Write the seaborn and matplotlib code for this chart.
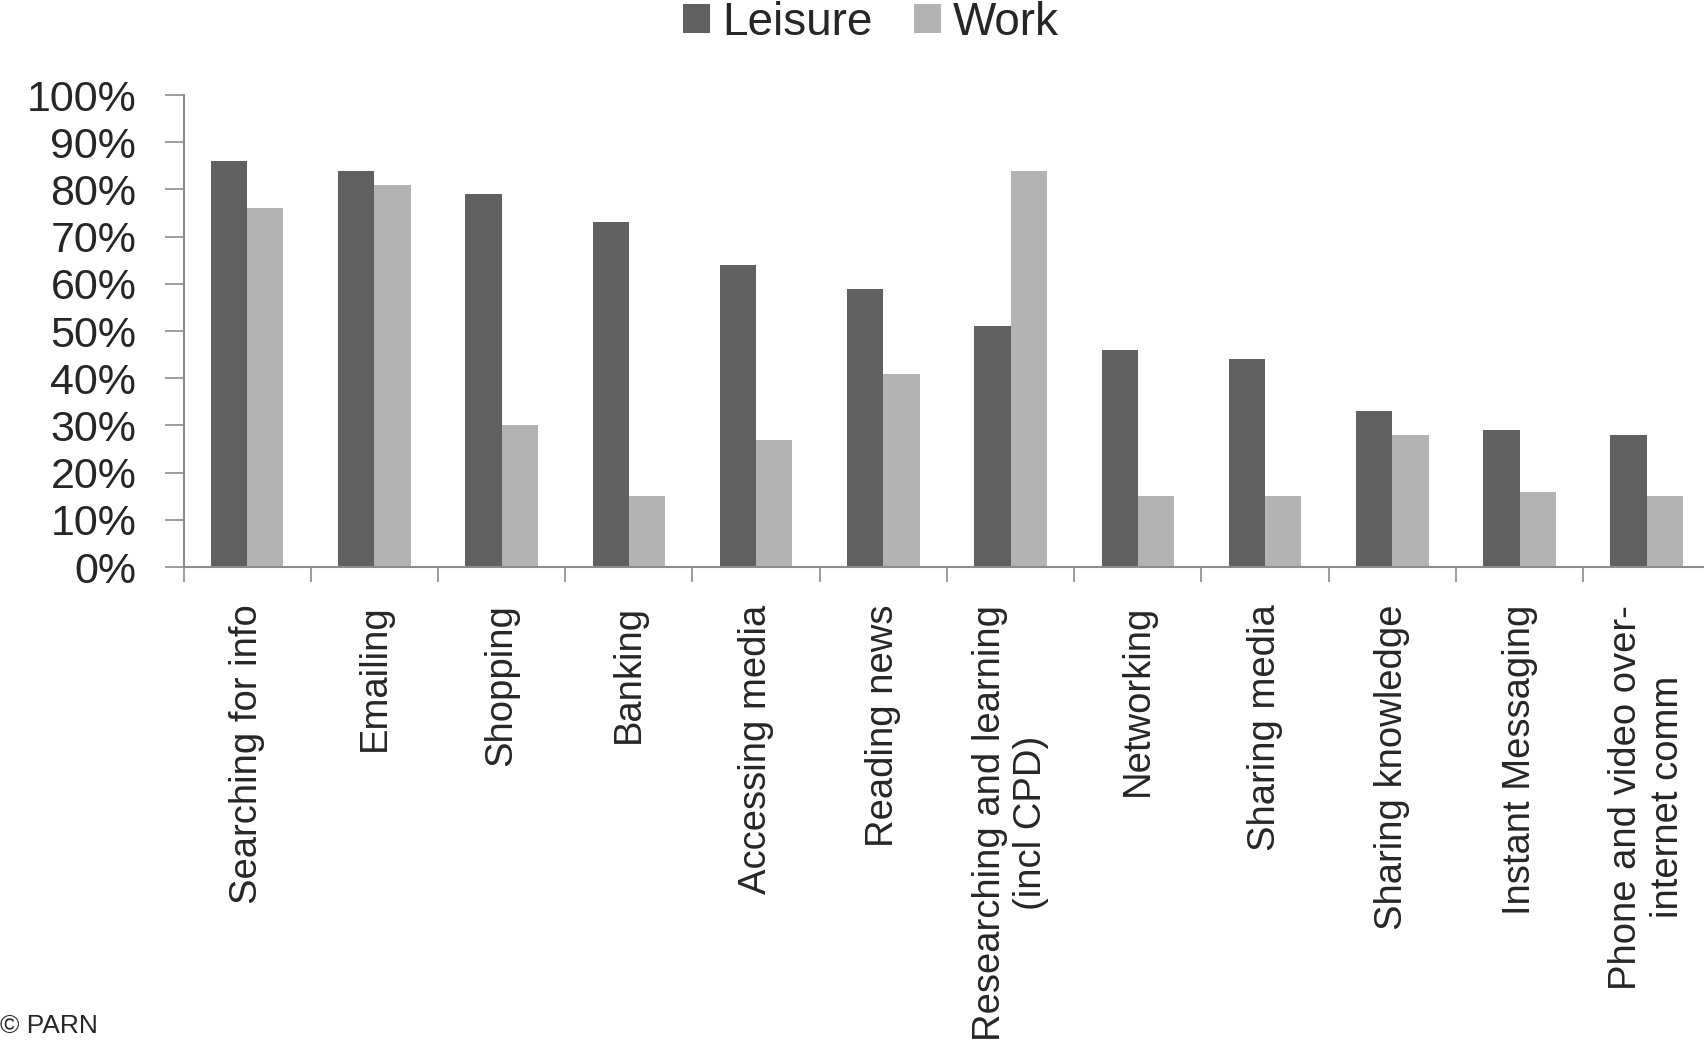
import matplotlib
matplotlib.use("Agg")
import matplotlib.pyplot as plt
import matplotlib.ticker as mtick
from matplotlib.patches import Patch
import seaborn as sns
import pandas as pd

# %%
activities = [
    "Searching for info",
    "Emailing",
    "Shopping",
    "Banking",
    "Accessing media",
    "Reading news",
    "Researching and learning\n(incl CPD)",
    "Networking",
    "Sharing media",
    "Sharing knowledge",
    "Instant Messaging",
    "Phone and video over-\ninternet comm",
]
leisure = [86, 84, 79, 73, 64, 59, 51, 46, 44, 33, 29, 28]
work = [76, 81, 30, 15, 27, 41, 84, 15, 15, 28, 16, 15]
series_labels = ["Leisure", "Work"]
series_colors = ["#606060", "#b3b3b3"]

df = pd.DataFrame(
    {
        "activity": activities * 2,
        "share": leisure + work,
        "setting": [series_labels[0]] * len(activities)
        + [series_labels[1]] * len(activities),
    }
)

# %%
sns.set_style("white")
plt.rcParams["font.family"] = ["Liberation Sans", "DejaVu Sans"]

fig = plt.figure(figsize=(17.04, 10.41), dpi=100)
ax = fig.add_axes([0.1077, 0.4553, 0.8923, 0.4534])

sns.barplot(
    data=df,
    x="activity",
    y="share",
    hue="setting",
    palette=series_colors,
    width=0.57,
    saturation=1,
    linewidth=0,
    ax=ax,
    legend=False,
)

ax.set_xlim(-0.5, 11.45)
ax.set_ylim(0, 100)
ax.set_yticks(range(0, 101, 10))
ax.yaxis.set_major_formatter(mtick.PercentFormatter(xmax=100, decimals=0))
ax.set_xlabel("")
ax.set_ylabel("")

# group boundaries as minor ticks, labels on major ticks
ax.set_xticks([i - 0.5 for i in range(len(activities))], minor=True)
ax.tick_params(axis="x", which="major", length=0, pad=27)
ax.tick_params(axis="x", which="minor", length=11, width=1.2, color="#8c8c8c",
               direction="out", bottom=True)
ax.tick_params(axis="y", which="major", length=14, width=1.2, color="#8c8c8c",
               direction="out", left=True, pad=20, labelsize=31)

for lab in ax.get_xticklabels():
    lab.set_rotation(90)
    lab.set_fontsize(27.5)
    lab.set_ha("center")
    lab.set_va("top")
    lab.set_multialignment("center")

sns.despine(ax=ax, top=True, right=True)
for side in ["left", "bottom"]:
    ax.spines[side].set_color("#8c8c8c")
    ax.spines[side].set_linewidth(1.5)

handles = [Patch(facecolor=c, edgecolor="none") for c in series_colors]
fig.legend(
    handles,
    series_labels,
    loc="center",
    bbox_to_anchor=(0.511, 0.978),
    ncol=2,
    frameon=False,
    fontsize=33,
    handlelength=0.6,
    handleheight=0.6,
    handletextpad=0.25,
    columnspacing=0.9,
)

fig.text(0.0, 0.003, "\u00a9 PARN", fontsize=19, ha="left", va="bottom")

plt.savefig("out.png", dpi=100)
